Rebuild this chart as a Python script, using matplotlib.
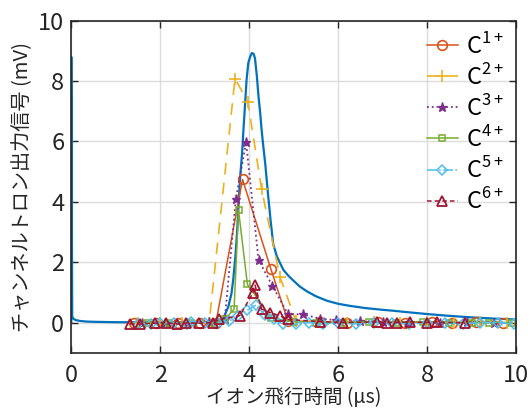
import numpy as np
import matplotlib
matplotlib.use("Agg")
from matplotlib import pyplot as plt

plt.rcParams['font.family'] = ['Noto Sans CJK JP', 'DejaVu Sans']
plt.rcParams['mathtext.fontset'] = 'custom'
plt.rcParams['mathtext.rm'] = 'Noto Sans CJK JP'

# measured channeltron signal (blue line)
sig_t = [0.0, 0.0, 0.02, 0.05, 0.1, 0.2, 0.35, 0.6, 1.0, 2.0, 3.0, 3.3, 3.38, 3.45, 3.53,
         3.6, 3.64, 3.69, 3.73, 3.79, 3.84, 3.87, 3.91, 3.94, 3.98, 4.02, 4.06, 4.1, 4.13,
         4.17, 4.21, 4.25, 4.28, 4.32, 4.36, 4.42, 4.48, 4.54, 4.62, 4.7, 4.77, 4.88, 5.0,
         5.14, 5.3, 5.5, 5.75, 6.0, 6.27, 6.6, 7.0, 7.24, 7.5, 8.0, 8.5, 9.0, 9.5, 10.0]
sig_v = [0.0, 8.8, 0.2, 0.12, 0.08, 0.05, 0.03, 0.02, 0.01, 0.0, 0.0, 0.03, 0.08, 0.25, 0.52,
         0.95, 1.41, 2.2, 3.06, 4.71, 5.6, 6.37, 7.3, 8.03, 8.6, 8.8, 8.93, 8.9, 8.75,
         8.2, 7.48, 6.9, 6.37, 5.8, 5.27, 4.3, 3.4, 2.6, 2.2, 1.95, 1.74, 1.55, 1.38,
         1.19, 1.03, 0.87, 0.72, 0.62, 0.55, 0.48, 0.42, 0.39, 0.35, 0.28, 0.22, 0.17, 0.13, 0.1]

# simulated charge states
c1_t = [1.4, 1.9, 2.4, 2.9, 3.25, 3.85, 4.49, 4.87, 5.6, 6.2, 6.9, 7.5, 8.1, 8.55, 9.1, 9.7]
c1_v = [0.0, 0.0, 0.0, 0.0, -0.02, 4.74, 1.76, 0.05, 0.03, 0.0, 0.02, 0.0, 0.02, -0.02, 0.03, 0.0]

c2_t = [1.5, 2.0, 2.5, 3.1, 3.68, 3.97, 4.28, 4.69, 5.05, 5.6, 6.2, 6.8, 7.4, 8.0, 8.6, 9.2, 9.8]
c2_v = [0.0, 0.0, 0.0, 0.0, 8.08, 7.31, 4.41, 1.52, 0.05, 0.02, 0.0, 0.02, 0.0, 0.02, 0.0, 0.02, 0.0]

c3_t = [1.6, 2.1, 2.6, 3.1, 3.45, 3.7, 3.93, 4.21, 4.52, 4.87, 5.22, 5.6, 5.95, 6.5, 7.0, 7.6, 8.3, 8.9, 9.5]
c3_v = [0.0, 0.0, 0.0, 0.02, 0.1, 4.09, 5.97, 2.07, 1.22, 0.28, 0.27, 0.12, 0.08, 0.05, 0.03, 0.02, -0.02, 0.02, 0.0]

c4_t = [1.7, 2.2, 2.7, 3.2, 3.45, 3.66, 3.76, 3.96, 4.5, 5.0, 5.5, 6.1, 6.7, 7.3, 7.9, 8.5, 9.0, 9.4, 9.9]
c4_v = [0.0, 0.0, 0.0, 0.0, 0.1, 0.44, 3.72, 1.26, 0.15, 0.03, 0.0, 0.0, 0.02, 0.0, 0.02, 0.0, 0.0, 0.0, 0.0]

c5_t = [1.5, 1.8, 2.0, 2.3, 2.6, 2.7, 3.0, 3.3, 3.55, 3.75, 3.95, 4.15, 4.35, 4.55, 4.75, 5.05,
        5.35, 5.65, 6.0, 6.4, 6.8, 7.2, 7.6, 8.0, 8.4, 8.8, 9.2, 9.6, 9.95]
c5_v = [-0.05, -0.05, 0.0, 0.0, -0.05, 0.03, 0.0, 0.0, 0.05, 0.2, 0.4, 0.58, 0.25, 0.1, -0.05, -0.05,
        0.0, -0.05, 0.0, -0.05, 0.0, 0.0, -0.05, 0.0, 0.0, -0.05, 0.0, 0.0, -0.05]

c6_t = [1.32, 1.54, 1.88, 2.13, 2.37, 2.58, 2.88, 3.18, 3.33, 3.79, 4.08, 4.13, 4.28, 4.47,
        4.69, 4.88, 5.59, 6.12, 6.87, 7.09, 7.32, 7.62, 7.99, 8.22, 8.85]
c6_v = [-0.05, -0.05, -0.02, 0.0, -0.05, -0.02, -0.02, 0.0, 0.1, 0.23, 0.97, 1.24, 0.44, 0.33,
        0.22, 0.1, 0.03, 0.0, 0.02, 0.0, 0.0, 0.02, 0.0, 0.02, -0.02]

fig = plt.figure(figsize=(5.31, 4.09), dpi=100)
ax = fig.add_axes([0.1343, 0.1377, 0.8375, 0.8117])

ax.plot(sig_t, sig_v, color='#0072BD', lw=1.6)
ax.plot(c1_t, c1_v, '-o', color='#D95319', lw=1.1, ms=7, mfc='none', mew=1.2, label='C$^{1+}$')
ax.plot(c2_t, c2_v, '--+', color='#EDB120', lw=1.2, ms=8, mew=1.2, dashes=(7, 5), label='C$^{2+}$')
ax.plot(c3_t, c3_v, ':*', color='#7E2F8E', lw=1.3, ms=6.5, label='C$^{3+}$')
ax.plot(c4_t, c4_v, '-s', color='#77AC30', lw=1.1, ms=5, mfc='none', mew=1.1, label='C$^{4+}$')
ax.plot(c5_t, c5_v, '-.D', color='#4DBEEE', lw=1.1, ms=5.5, mfc='none', mew=1.1, label='C$^{5+}$')
ax.plot(c6_t, c6_v, '--^', color='#A2142F', lw=1.1, ms=7.5, mfc='none', mew=1.3, dashes=(3, 2), label='C$^{6+}$')

ax.set_xlim(0, 10)
ax.set_ylim(-1, 10)
ax.set_xticks([0, 2, 4, 6, 8, 10])
ax.set_yticks([0, 2, 4, 6, 8, 10])
ax.grid(True, color='#dcdcdc', lw=1)
ax.set_axisbelow(True)
ax.tick_params(direction='in', top=True, right=True, labelsize=17, colors='#262626',
               length=5, width=1)
ax.tick_params(axis='x', pad=8)
ax.tick_params(axis='y', pad=5)
for s in ax.spines.values():
    s.set_color('#262626')
    s.set_linewidth(1.2)

ax.set_xlabel('イオン飛行時間 (μs)', fontsize=14, color='#262626', labelpad=0)
ax.set_ylabel('チャンネルトロン出力信号 (mV)', fontsize=14.5, color='#262626', labelpad=4)

ax.legend(loc='upper right', frameon=False, fontsize=17, handlelength=1.3,
          handletextpad=0.35, labelspacing=0.22, borderaxespad=0.1)

fig.savefig('out.png', dpi=100)
